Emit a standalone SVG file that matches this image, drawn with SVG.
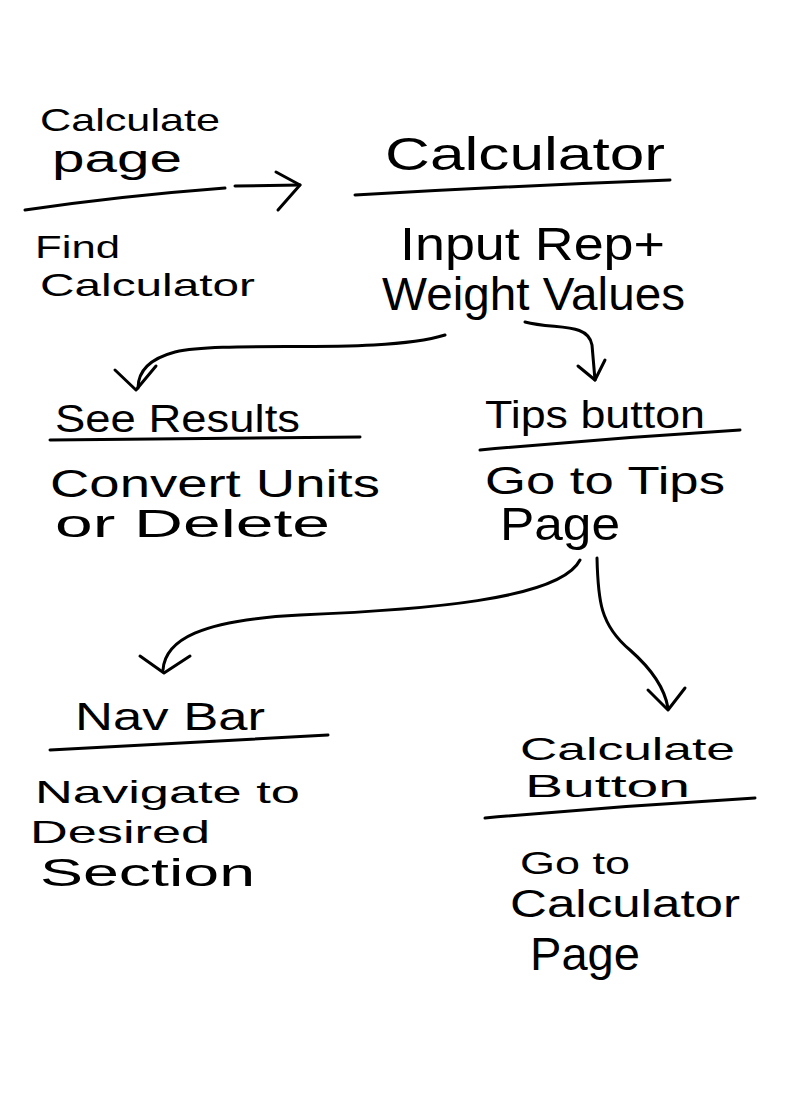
<svg xmlns="http://www.w3.org/2000/svg" width="800" height="1100" viewBox="0 0 800 1100">
  <style>
    text { font-family: "Liberation Sans", "DejaVu Sans", sans-serif; fill: #000; }
    .t { font-size: 46px; }
    .s { font-size: 38px; }
    .c { font-size: 32px; }
    .ln { stroke: #000; stroke-width: 3; fill: none; stroke-linecap: round; stroke-linejoin: round; }
  </style>
  <rect width="800" height="1100" fill="#fff"/>

  <g id="calculate-page">
    <text class="c" x="40" y="131" textLength="180" lengthAdjust="spacingAndGlyphs">Calculate</text>
    <text class="s" x="52" y="172" textLength="130" lengthAdjust="spacingAndGlyphs">page</text>
    <path class="ln" d="M25,210 Q120,196 225,188"/>
    <text class="c" x="35" y="258" textLength="85" lengthAdjust="spacingAndGlyphs">Find</text>
    <text class="c" x="40" y="296" textLength="215" lengthAdjust="spacingAndGlyphs">Calculator</text>
  </g>

  <g id="calculator">
    <text class="t" x="385" y="170" textLength="280" lengthAdjust="spacingAndGlyphs">Calculator</text>
    <path class="ln" d="M355,195 Q510,186 670,180"/>
    <text class="t" x="400" y="260" textLength="265" lengthAdjust="spacingAndGlyphs">Input Rep+</text>
    <text class="t" x="382" y="310" textLength="303" lengthAdjust="spacingAndGlyphs">Weight Values</text>
  </g>

  <g id="see-results">
    <text class="s" x="55" y="432" textLength="245" lengthAdjust="spacingAndGlyphs">See Results</text>
    <path class="ln" d="M50,440 L360,437"/>
    <text class="s" x="50" y="497" textLength="330" lengthAdjust="spacingAndGlyphs">Convert Units</text>
    <text class="s" x="55" y="537" textLength="275" lengthAdjust="spacingAndGlyphs">or  Delete</text>
  </g>

  <g id="tips-button">
    <text class="s" x="485" y="428" textLength="220" lengthAdjust="spacingAndGlyphs">Tips button</text>
    <path class="ln" d="M480,450 Q610,438 740,430"/>
    <text class="s" x="485" y="494" textLength="240" lengthAdjust="spacingAndGlyphs">Go to Tips</text>
    <text class="t" x="500" y="540" textLength="120" lengthAdjust="spacingAndGlyphs">Page</text>
  </g>

  <g id="nav-bar">
    <text class="s" x="75" y="730" textLength="190" lengthAdjust="spacingAndGlyphs">Nav Bar</text>
    <path class="ln" d="M50,750 L328,735"/>
    <text class="c" x="35" y="803" textLength="265" lengthAdjust="spacingAndGlyphs">Navigate to</text>
    <text class="c" x="30" y="843" textLength="180" lengthAdjust="spacingAndGlyphs">Desired</text>
    <text class="s" x="40" y="886" textLength="215" lengthAdjust="spacingAndGlyphs">Section</text>
  </g>

  <g id="calculate-button">
    <text class="c" x="520" y="760" textLength="215" lengthAdjust="spacingAndGlyphs">Calculate</text>
    <text class="c" x="525" y="797" textLength="165" lengthAdjust="spacingAndGlyphs">Button</text>
    <path class="ln" d="M485,818 Q620,806 755,798"/>
    <text class="c" x="520" y="874" textLength="110" lengthAdjust="spacingAndGlyphs">Go to</text>
    <text class="s" x="510" y="917" textLength="230" lengthAdjust="spacingAndGlyphs">Calculator</text>
    <text class="t" x="530" y="970" textLength="110" lengthAdjust="spacingAndGlyphs">Page</text>
  </g>

  <g id="connectors">
    <!-- calculate page -> calculator -->
    <path class="ln" d="M235,186 L300,185"/>
    <path class="ln" d="M276,172 L300,185 L278,210"/>
    <!-- calculator -> see results -->
    <path class="ln" d="M445,335 C380,355 230,340 175,352 C145,360 138,375 138,388"/>
    <path class="ln" d="M115,370 L136,390 L156,366"/>
    <!-- calculator -> tips button -->
    <path class="ln" d="M525,322 C555,330 588,322 592,345 L595,380"/>
    <path class="ln" d="M578,366 L595,380 L605,360"/>
    <!-- tips button -> nav bar -->
    <path class="ln" d="M580,560 C560,600 420,610 300,615 C200,620 165,640 163,670"/>
    <path class="ln" d="M140,656 L164,673 L190,656"/>
    <!-- tips button -> calculate button -->
    <path class="ln" d="M597,558 C598,600 600,625 630,650 C655,672 665,690 668,708"/>
    <path class="ln" d="M648,690 L668,710 L685,688"/>
  </g>
</svg>
